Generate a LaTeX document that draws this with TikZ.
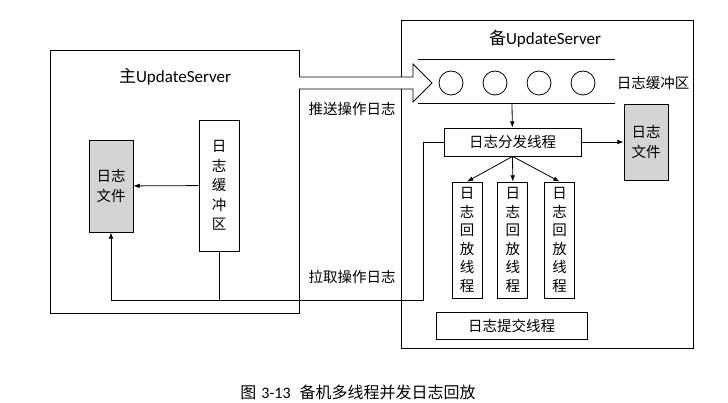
\documentclass[tikz,border=0pt]{standalone}
\usepackage{fontspec}
\setmainfont{Noto Sans CJK SC}
\newfontfamily\latinfont{Carlito}
\usetikzlibrary{arrows.meta,positioning,calc}

\begin{document}
\begin{tikzpicture}[
  x=1pt, y=-1pt,
  frame/.style={draw, line width=0.8pt, inner sep=0pt},
  box/.style={draw, line width=0.8pt, align=center, inner sep=0pt,
              font=\fontsize{14.5}{19.5}\selectfont},
  filebox/.style={box, fill=black!17},
  label/.style={align=center, inner sep=0pt, font=\fontsize{14.5}{19}\selectfont},
  title/.style={inner sep=0pt, font=\fontsize{17}{19}\selectfont},
  slot/.style={draw, line width=0.8pt, circle, minimum size=24pt, inner sep=0pt},
  arrow/.style={-{Latex[length=2.2mm]}, line width=0.8pt},
  line/.style={line width=0.8pt}
]
\useasboundingbox (0,0) rectangle (728,403);

% two servers
\node[frame, minimum width=249pt, minimum height=263pt] (primary) at (174.5,181.5) {};
\node[frame, minimum width=292pt, minimum height=328pt] (backup) at (547,184) {};
\node[title] (ptitle) at (175,77) {主{\latinfont UpdateServer}};
\node[title] (btitle) at (545,39) {备{\latinfont UpdateServer}};

% primary side
\node[filebox, minimum width=44pt, minimum height=92pt] (pfile) at (111,186) {日志\\文件};
\node[box, minimum width=40pt, minimum height=131pt] (pbuf) at (219,185.5) {日\\志\\缓\\冲\\区};

% backup log buffer
\draw[line] (418,59) -- (615,59);
\draw[line] (418,103) -- (615,103);
\foreach \i/\x in {1/451, 2/495, 3/539, 4/583}
  \node[slot] (slot\i) at (\x,83) {};
\node[label] (blabel) at (653,83) {日志缓冲区};
\coordinate (bufout) at (512,103);

% push arrow
\draw[line, fill=white] (299,77) -- (413,77) -- (413,64) -- (432,83)
  -- (413,102) -- (413,89) -- (299,89);
\node[label] (push) at (352,109) {推送操作日志};

% backup threads
\node[box, minimum width=137pt, minimum height=28pt] (dispatch) at (512.5,142) {日志分发线程};
\node[filebox, minimum width=44pt, minimum height=76pt] (bfile) at (646,142) {日志\\文件};
\node[box, minimum width=30pt, minimum height=116pt, font=\fontsize{14.5}{18.6}\selectfont]
  (replay1) at (467,240) {日\\志\\回\\放\\线\\程};
\node[box, minimum width=30pt, minimum height=116pt, font=\fontsize{14.5}{18.6}\selectfont,
  right=15pt of replay1] (replay2) {日\\志\\回\\放\\线\\程};
\node[box, minimum width=30pt, minimum height=116pt, font=\fontsize{14.5}{18.6}\selectfont,
  right=16pt of replay2] (replay3) {日\\志\\回\\放\\线\\程};
\node[box, minimum width=151pt, minimum height=27pt] (commit) at (511.5,325.5) {日志提交线程};
\node[label] (pull) at (352,277) {拉取操作日志};
\coordinate (turn) at (423,300);

\draw[arrow] (bufout) -- (dispatch);
\draw[arrow] (dispatch) -- (bfile);
\foreach \i in {1,2,3}
  \draw[arrow] (dispatch.south) -- (replay\i.north);
\draw[arrow] (pbuf) -- (pfile);
\draw[line] (pbuf.south) -- (pbuf.south |- turn);
\draw[arrow] (dispatch.west) -| (turn) -| (pfile.south);

\node[inner sep=0pt, font=\fontsize{16}{18}\selectfont] (caption) at (358,392)
  {图\hspace{5pt}{\latinfont 3-13}\hspace{9pt}备机多线程并发日志回放};
\end{tikzpicture}
\end{document}
